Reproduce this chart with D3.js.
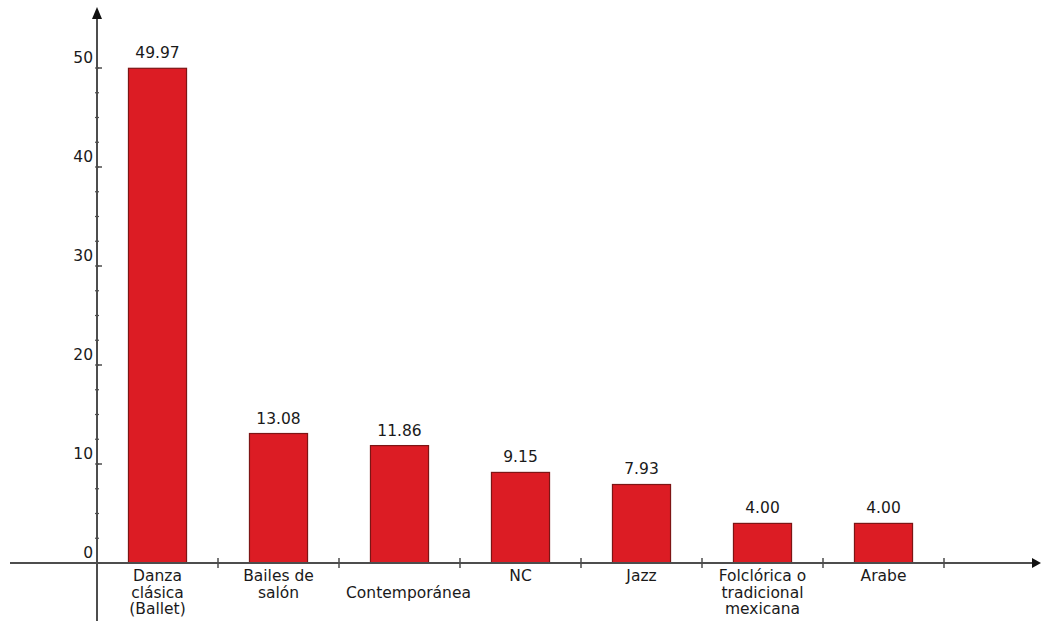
<!DOCTYPE html>
<html>
<head>
<meta charset="utf-8">
<script src="https://cdn.jsdelivr.net/npm/d3@7"></script>
<style>
  body { margin: 0; background: #fff; }
  text { font-family: "DejaVu Sans", sans-serif; fill: #1a1a1a; }
</style>
</head>
<body>
<div id="chart"></div>
<script>
// data
var categories = ["Danza clásica (Ballet)", "Bailes de salón", "Contemporánea", "NC", "Jazz",
                  "Folclórica o tradicional mexicana", "Arabe"]
var values = [49.97, 13.08, 11.86, 9.15, 7.93, 4.00, 4.00]
// label lines under each bar ("" keeps an empty first line)
var labelLines = [["Danza", "clásica", "(Ballet)"],
                  ["Bailes de", "salón"],
                  ["", "Contemporánea"],
                  ["NC"],
                  ["Jazz"],
                  ["Folclórica o", "tradicional", "mexicana"],
                  ["Arabe"]]
var yTicks = [0, 10, 20, 30, 40, 50]
var yMinorStep = 2.5

var width = 1041, height = 621
var originX = 97, originY = 563
var fontSize = "15.5px"

var svg = d3.select("#chart").append("svg")
    .attr("width", width)
    .attr("height", height)

var x = d3.scaleBand()
    .domain(categories)
    .range([originX, originX + 121 * categories.length])
    .paddingInner(0.52)
    .paddingOuter(0.26)

var y = d3.scaleLinear().domain([0, 50]).range([originY, 68])

var axisColor = "#4d4d4d"

// bars
svg.append("g").selectAll("rect")
    .data(values)
    .enter().append("rect")
    .attr("x", function(d, i) { return x(categories[i]) })
    .attr("y", function(d) { return y(d) })
    .attr("width", x.bandwidth())
    .attr("height", function(d) { return y(0) - y(d) })
    .attr("fill", "#dc1c24")
    .attr("stroke", "#7d1515")
    .attr("stroke-width", 1.2)

// value labels
svg.append("g").selectAll("text")
    .data(values)
    .enter().append("text")
    .attr("x", function(d, i) { return x(categories[i]) + x.bandwidth() / 2 })
    .attr("y", function(d) { return y(d) - 10 })
    .attr("text-anchor", "middle")
    .style("font-size", fontSize)
    .text(function(d) { return d.toFixed(2) })

// category labels
var catG = svg.append("g").selectAll("text")
    .data(categories)
    .enter().append("text")
    .attr("x", function(d, i) {
        var cx = x(d) + x.bandwidth() / 2
        return labelLines[i].length == 2 && labelLines[i][0] == "" ? cx + 9 : cx
    })
    .attr("y", originY + 18)
    .attr("text-anchor", "middle")
    .style("font-size", fontSize)
catG.selectAll("tspan")
    .data(function(d, i) { return labelLines[i] })
    .enter().append("tspan")
    .attr("x", function() { return d3.select(this.parentNode).attr("x") })
    .attr("dy", function(d, i) { return i == 0 ? 0 : 16.5 })
    .text(function(d) { return d })

// x axis line + arrow
svg.append("line")
    .attr("x1", 10).attr("x2", 1036)
    .attr("y1", originY).attr("y2", originY)
    .attr("stroke", axisColor).attr("stroke-width", 2)
svg.append("path")
    .attr("d", "M1041," + originY + "L1032," + (originY - 5) + "L1032," + (originY + 5) + "Z")
    .attr("fill", "#111")

// category boundary ticks
svg.append("g").selectAll("line")
    .data(categories)
    .enter().append("line")
    .attr("x1", function(d) { return x(d) + x.bandwidth() + (x.step() - x.bandwidth()) / 2 })
    .attr("x2", function(d) { return x(d) + x.bandwidth() + (x.step() - x.bandwidth()) / 2 })
    .attr("y1", originY - 5).attr("y2", originY + 5)
    .attr("stroke", axisColor).attr("stroke-width", 1.5)

// y axis line + arrow
svg.append("line")
    .attr("x1", originX).attr("x2", originX)
    .attr("y1", height).attr("y2", 18)
    .attr("stroke", axisColor).attr("stroke-width", 2)
svg.append("path")
    .attr("d", "M" + originX + ",7L" + (originX - 5) + ",19L" + (originX + 5) + ",19Z")
    .attr("fill", "#111")

// minor ticks
svg.append("g").selectAll("line")
    .data(d3.range(0, 50 + 0.001, yMinorStep))
    .enter().append("line")
    .attr("x1", originX - 2).attr("x2", originX + 2)
    .attr("y1", function(d) { return y(d) }).attr("y2", function(d) { return y(d) })
    .attr("stroke", axisColor).attr("stroke-width", 1.2)

// major ticks
svg.append("g").selectAll("line")
    .data(yTicks)
    .enter().append("line")
    .attr("x1", originX).attr("x2", originX + 5)
    .attr("y1", function(d) { return y(d) }).attr("y2", function(d) { return y(d) })
    .attr("stroke", axisColor).attr("stroke-width", 1.5)

svg.append("g").selectAll("text")
    .data(yTicks)
    .enter().append("text")
    .attr("x", originX - 4)
    .attr("y", function(d) { return y(d) - 5 })
    .attr("text-anchor", "end")
    .style("font-size", fontSize)
    .text(function(d) { return d })
</script>
</body>
</html>
